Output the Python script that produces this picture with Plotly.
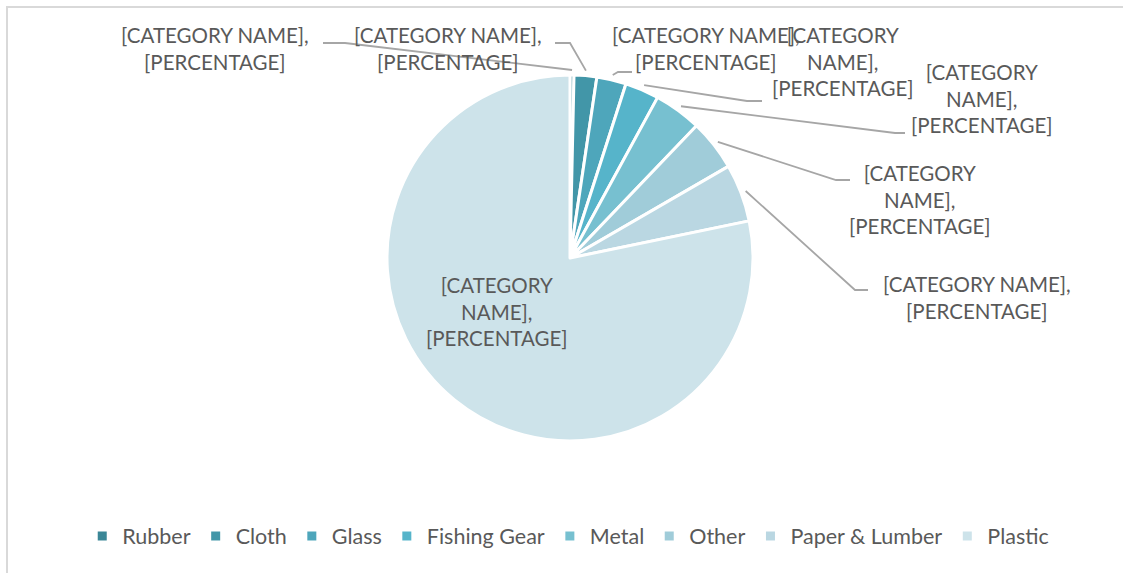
import math
import plotly.graph_objects as go

W, H = 1123, 573

# ---- data ----
categories = ["Rubber", "Cloth", "Glass", "Fishing Gear", "Metal", "Other", "Paper & Lumber", "Plastic"]
values = [0.35, 2.0, 2.6, 3.0, 4.2, 4.5, 5.1, 78.25]
label_texts = [
    "[CATEGORY NAME],<br>[PERCENTAGE]",
    "[CATEGORY NAME],<br>[PERCENTAGE]",
    "[CATEGORY NAME],<br>[PERCENTAGE]",
    "[CATEGORY<br>NAME],<br>[PERCENTAGE]",
    "[CATEGORY<br>NAME],<br>[PERCENTAGE]",
    "[CATEGORY<br>NAME],<br>[PERCENTAGE]",
    "[CATEGORY NAME],<br>[PERCENTAGE]",
    "[CATEGORY<br>NAME],<br>[PERCENTAGE]",
]
colors = ["#3b8797", "#4296a8", "#4ea6bb", "#56b4ca", "#77c0d0", "#a0ccd9", "#bad7e2", "#cde3ea"]

# ---- layout (pixels) ----
CX, CY, R = 570, 258, 183
# label centre positions
label_pos = [(215, 49), (448, 49), (706, 49), (843, 62), (982, 98), (920, 199), (977, 297), (497, 311)]
# leader elbow and end points (None for inside label)
leaders = [
    ((345, 43), (323, 43)),
    ((570, 43), (555, 43)),
    ((618, 72), (632, 72)),
    ((747, 101), (762, 101)),
    ((895, 133), (905, 133)),
    ((836, 180), (850, 180)),
    ((855, 290), (868, 290)),
    None,
]


def fx(x):
    return x / W


def fy(y):
    return 1 - y / H


fig = go.Figure()
fig.add_trace(go.Pie(
    labels=categories,
    values=values,
    sort=False,
    direction="clockwise",
    rotation=0,
    textinfo="none",
    hoverinfo="label+percent",
    marker=dict(colors=colors, line=dict(color="white", width=3)),
    domain=dict(x=[fx(CX - R), fx(CX + R)], y=[fy(CY + R), fy(CY - R)]),
))

annotations = []
shapes = []
total = sum(values)
cum = 0.0
for i, v in enumerate(values):
    mid = (cum + v / 2) / total * 2 * math.pi
    cum += v
    lx, ly = label_pos[i]
    annotations.append(dict(
        x=fx(lx), y=fy(ly), xref="paper", yref="paper",
        text=label_texts[i], showarrow=False, align="center",
        xanchor="center", yanchor="middle",
        font=dict(family="Lato", size=20.5, color="#595959"),
    ))
    if leaders[i] is not None:
        sx = CX + 188 * math.sin(mid)
        sy = CY - 188 * math.cos(mid)
        (ex, ey), (tx, ty) = leaders[i]
        path = f"M {fx(sx)},{fy(sy)} L {fx(ex)},{fy(ey)} L {fx(tx)},{fy(ty)}"
        shapes.append(dict(type="path", xref="paper", yref="paper", path=path,
                           line=dict(color="#a6a6a6", width=1.8)))

# chart frame
shapes.append(dict(type="rect", xref="paper", yref="paper",
                   x0=fx(7), x1=1.02, y0=-0.02, y1=fy(7),
                   line=dict(color="#d9d9d9", width=2), layer="below"))

fig.update_layout(
    width=W, height=H,
    margin=dict(l=0, r=0, t=0, b=0),
    paper_bgcolor="white",
    plot_bgcolor="white",
    annotations=annotations,
    shapes=shapes,
    showlegend=True,
    legend=dict(
        orientation="h", x=0.506, xanchor="center", y=fy(536), yanchor="middle",
        font=dict(family="Lato", size=21.5, color="#595959"),
        itemwidth=30, traceorder="normal",
    ),
)

fig.write_html("out.html")
